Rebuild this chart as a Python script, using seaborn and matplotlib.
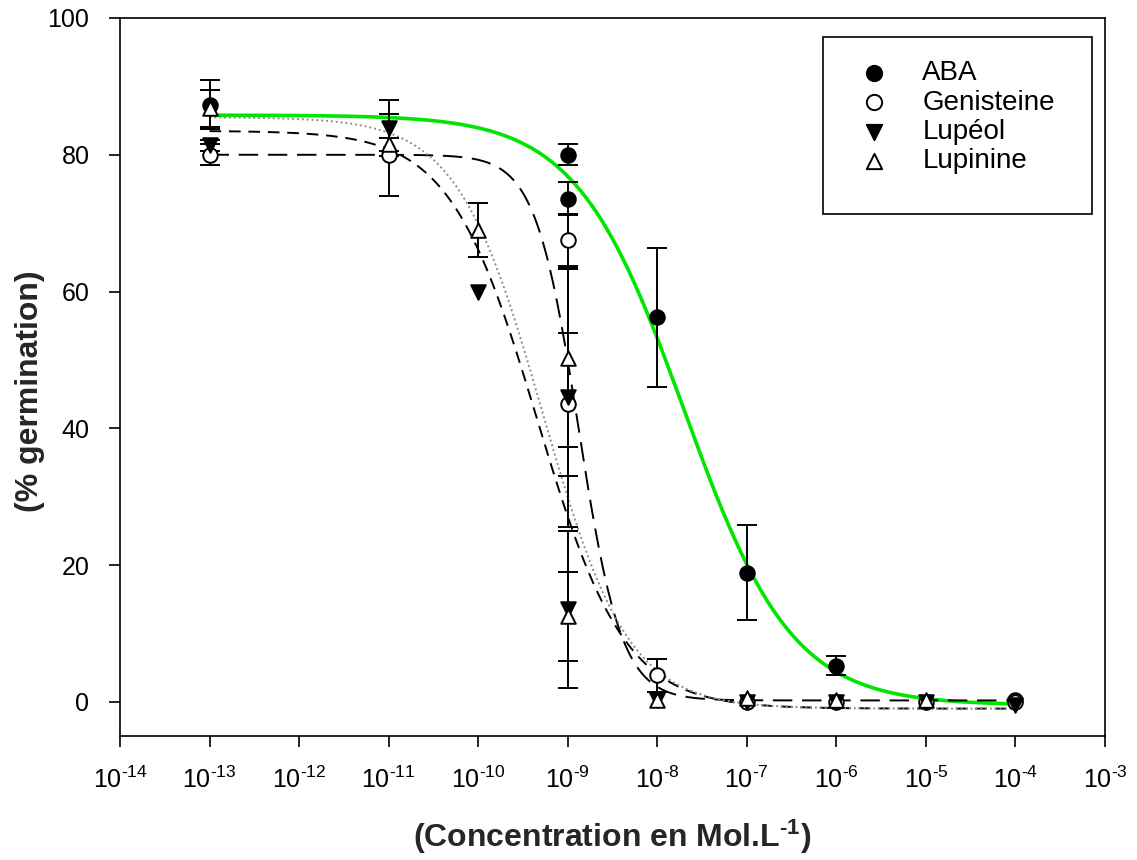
import numpy as np
import pandas as pd
import seaborn as sns
import matplotlib
matplotlib.use("Agg")
import matplotlib.pyplot as plt
from matplotlib.patches import Rectangle
from matplotlib.ticker import FixedLocator, FixedFormatter, NullLocator

# ------------------ Data ------------------
aba_conc = [1e-13, 1e-9, 1e-9, 1e-8, 1e-7, 1e-6, 1e-4]
aba_germ = [87.3, 80.0, 73.6, 56.2, 18.9, 5.3, 0.3]
aba_err = [3.6, 1.5, 2.4, 10.2, 6.9, 1.4, 0.0]

gen_conc = [1e-13, 1e-11, 1e-9, 1e-9, 1e-8, 1e-7, 1e-6, 1e-5, 1e-4]
gen_germ = [80.0, 80.0, 67.5, 43.5, 3.9, 0.0, 0.0, 0.0, 0.0]
gen_err = [1.5, 6.0, 3.8, 10.5, 2.4, 0.0, 0.0, 0.0, 0.0]

lup_conc = [1e-13, 1e-11, 1e-10, 1e-9, 1e-9, 1e-8, 1e-7, 1e-6, 1e-5, 1e-4]
lup_germ = [81.4, 83.9, 60.0, 44.5, 13.5, 0.3, 0.0, 0.0, 0.0, -0.5]
lup_err = [0.8, 4.1, 0.0, 19.0, 11.5, 0.0, 0.0, 0.0, 0.0, 0.0]

lupi_conc = [1e-13, 1e-11, 1e-10, 1e-9, 1e-9, 1e-8, 1e-7, 1e-6, 1e-5]
lupi_germ = [86.8, 81.5, 69.0, 50.3, 12.5, 0.3, 0.5, 0.3, 0.3]
lupi_err = [2.7, 1.0, 4.0, 13.0, 6.5, 0.0, 0.0, 0.0, 0.0]

compounds = ["ABA", "Genisteine", "Lupéol", "Lupinine"]

# 4-parameter logistic fits (top, bottom, log EC50, hill slope)
fit_top = [85.8, 80.0, 83.5, 85.5]
fit_bottom = [-0.5, 0.2, -1.0, -1.0]
fit_logec50 = [-7.70, -8.88, -9.34, -9.28]
fit_hill = [0.72, 1.81, 0.89, 0.91]

xtick_vals = [1e-14, 1e-13, 1e-12, 1e-11, 1e-10, 1e-9, 1e-8, 1e-7, 1e-6, 1e-5, 1e-4, 1e-3]
# U+2010 hyphen so the exponent shows a short dash like the original
xtick_labels = ["$\\mathregular{10^{\u2010%d}}$" % e for e in range(14, 2, -1)]
ytick_vals = [0, 20, 40, 60, 80, 100]


def main():
    sns.set_theme(style="white")
    plt.rcParams["font.family"] = ["Liberation Sans", "DejaVu Sans"]
    plt.rcParams["mathtext.fontset"] = "custom"
    plt.rcParams["mathtext.rm"] = "Liberation Sans"
    plt.rcParams["mathtext.bf"] = "Liberation Sans:bold"

    points = pd.concat([
        pd.DataFrame({"conc": c, "germ": g, "err": e, "compound": name})
        for name, c, g, e in zip(
            compounds,
            [aba_conc, gen_conc, lup_conc, lupi_conc],
            [aba_germ, gen_germ, lup_germ, lupi_germ],
            [aba_err, gen_err, lup_err, lupi_err],
        )
    ], ignore_index=True)

    fig = plt.figure(figsize=(11.37, 8.6), dpi=100)
    ax = fig.add_axes([0.1055, 0.1442, 0.8664, 0.8349])

    # ------------------ Fitted curves ------------------
    logx = np.linspace(-13, -4, 400)
    curve_styles = {
        "ABA": dict(color="#00e600", linewidth=2.6, linestyle="-"),
        "Genisteine": dict(color="black", linewidth=1.4, linestyle=(0, (10, 5))),
        "Lupéol": dict(color="black", linewidth=1.4, linestyle=(0, (6, 4))),
        "Lupinine": dict(color="#8c8c8c", linewidth=1.4, linestyle=(0, (1, 1.5))),
    }
    for i, name in enumerate(compounds):
        y = fit_bottom[i] + (fit_top[i] - fit_bottom[i]) / (
            1 + 10 ** ((logx - fit_logec50[i]) * fit_hill[i]))
        curve = pd.DataFrame({"conc": 10 ** logx, "germ": y})
        sns.lineplot(data=curve, x="conc", y="germ", ax=ax, zorder=2,
                     legend=False, **curve_styles[name])

    # ------------------ Error bars + points ------------------
    marker_styles = {
        "ABA": dict(marker="o", facecolor="black"),
        "Genisteine": dict(marker="o", facecolor="white"),
        "Lupéol": dict(marker="v", facecolor="black"),
        "Lupinine": dict(marker="^", facecolor="white"),
    }
    for name in compounds:
        sub = points[points["compound"] == name]
        has_err = sub[sub["err"] > 0]
        ax.errorbar(has_err["conc"], has_err["germ"], yerr=has_err["err"],
                    fmt="none", ecolor="black", elinewidth=1.4,
                    capsize=7.5, capthick=1.4, zorder=3)
    for name in compounds:
        sub = points[points["compound"] == name]
        sns.scatterplot(data=sub, x="conc", y="germ", ax=ax, s=110,
                        edgecolor="black", linewidth=1.4, zorder=4,
                        label=name, **marker_styles[name])

    ax.set_xscale("log")
    ax.set_xlim(1e-14, 1e-3)
    ax.set_ylim(-5, 100)
    ax.xaxis.set_major_locator(FixedLocator(xtick_vals))
    ax.xaxis.set_major_formatter(FixedFormatter(xtick_labels))
    ax.xaxis.set_minor_locator(NullLocator())
    ax.set_yticks(ytick_vals)

    for sp in ax.spines.values():
        sp.set_color("black")
        sp.set_linewidth(1.2)
    ax.tick_params(axis="both", direction="out", length=8, width=1.2,
                   color="black", labelsize=18, labelcolor="black",
                   bottom=True, left=True)
    ax.tick_params(axis="x", pad=14)
    ax.tick_params(axis="y", pad=14)

    ax.set_xlabel("(Concentration en Mol.L$\\mathbf{^{\u20101}}$)",
                  fontsize=23, fontweight="bold")
    ax.set_ylabel("(% germination)", fontsize=23, fontweight="bold")
    ax.xaxis.set_label_coords(0.5, -0.114)
    ax.yaxis.set_label_coords(-0.076, 0.48)

    # ------------------ Legend (SigmaPlot-like box) ------------------
    leg = ax.legend(loc="upper left", bbox_to_anchor=(0.744, 0.941),
                    fontsize=20, frameon=False, borderpad=0,
                    labelspacing=0.12, handlelength=1.5,
                    handletextpad=1.0, borderaxespad=0, markerscale=1.05)
    for t in leg.get_texts():
        t.set_color("black")
    ax.add_patch(Rectangle((0.7137, 0.727), 0.2731, 0.2465,
                           transform=ax.transAxes, fill=False,
                           edgecolor="black", linewidth=1.2, zorder=5))

    fig.savefig("out.png", dpi=100, facecolor="white")


if __name__ == "__main__":
    main()
